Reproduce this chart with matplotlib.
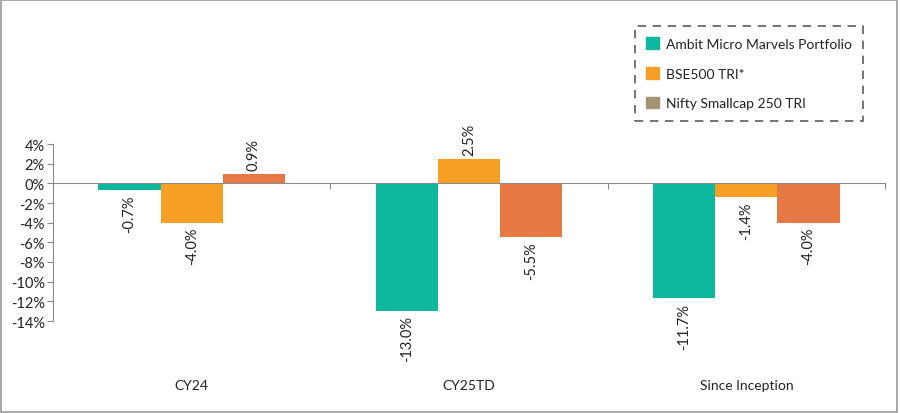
"""
Calendar-year returns: portfolio vs benchmarks
"""

import matplotlib
matplotlib.use("Agg")
import matplotlib.pyplot as plt
import matplotlib.patches as mpatches
import matplotlib.transforms as mtransforms
import numpy as np

# Data
categories = ["CY24", "CY25TD", "Since Inception"]
series_names = ["Ambit Micro Marvels Portfolio", "BSE500 TRI*", "Nifty Smallcap 250 TRI"]
portfolio = [-0.7, -13.0, -11.7]
bse500 = [-4.0, 2.5, -1.4]
smallcap = [0.9, -5.5, -4.0]
yticks = [4, 2, 0, -2, -4, -6, -8, -10, -12, -14]

BAR_COLORS = ["#0DB89C", "#F5A025", "#E57843"]
LEGEND_COLORS = ["#0DB89C", "#F5A025", "#A39574"]
TEXT = "#222222"
AXIS = "#8a8a8a"

plt.rcParams['font.family'] = ['Lato', 'DejaVu Sans']

fig = plt.figure(figsize=(9, 4.14), dpi=100)
ax = fig.add_axes([53 / 900, 1 - 322 / 414, (885 - 53) / 900, (322 - 145) / 414])

x = np.arange(len(categories))
width = 0.224
values = [portfolio, bse500, smallcap]
for i, vals in enumerate(values):
    offs = (i - 1) * width
    bars = ax.bar(x + offs, vals, width, color=BAR_COLORS[i], zorder=2)
    for rect, v in zip(bars, vals):
        cx = rect.get_x() + rect.get_width() / 2
        if v >= 0:
            ax.annotate(f"{v:.1f}%", (cx, v), xytext=(0, 3), textcoords="offset points",
                        rotation=90, ha="center", va="bottom", fontsize=10.5,
                        color=TEXT, annotation_clip=False)
        else:
            ax.annotate(f"{v:.1f}%", (cx, v), xytext=(0, -3), textcoords="offset points",
                        rotation=90, ha="center", va="top", fontsize=10.5,
                        color=TEXT, annotation_clip=False)

ax.set_xlim(-0.5, len(categories) - 0.5)
ax.set_ylim(-14, 4)
ax.set_yticks(yticks)
ax.set_yticklabels([f"{t}%" for t in yticks], fontsize=10.5, color=TEXT)
ax.tick_params(axis="y", length=4, color=AXIS, pad=2)

# x axis at zero, ticks at category boundaries
ax.spines["bottom"].set_position(("data", 0))
ax.spines["bottom"].set_color(AXIS)
ax.spines["left"].set_color(AXIS)
ax.spines["top"].set_visible(False)
ax.spines["right"].set_visible(False)
ax.set_xticks(np.arange(len(categories) + 1) - 0.5)
ax.set_xticklabels([])
ax.tick_params(axis="x", length=4, color=AXIS, direction="out")

trans = mtransforms.blended_transform_factory(ax.transData, fig.transFigure)
for xi, cat in zip(x, categories):
    ax.text(xi, 1 - 386 / 414, cat, transform=trans, ha="center", va="center",
            fontsize=10, color=TEXT)

# Legend
handles = [mpatches.Patch(color=c, label=n) for c, n in zip(LEGEND_COLORS, series_names)]
leg = fig.legend(handles=handles, loc="upper left", bbox_to_anchor=(628 / 900, 1 - 20 / 414),
                 frameon=True, fontsize=10, handlelength=0.9, handleheight=0.9,
                 handletextpad=0.5, labelspacing=1.25, borderpad=0.8, fancybox=False)
frame = leg.get_frame()
frame.set_edgecolor("#333333")
frame.set_linestyle((0, (5, 4)))
frame.set_linewidth(1.2)
for t in leg.get_texts():
    t.set_color(TEXT)

# Outer border
fig.patches.append(mpatches.Rectangle((0.001, 0.002), 0.996, 0.996, transform=fig.transFigure,
                                      fill=False, edgecolor="#999999", linewidth=1.2))

fig.savefig("out.png", dpi=100)
